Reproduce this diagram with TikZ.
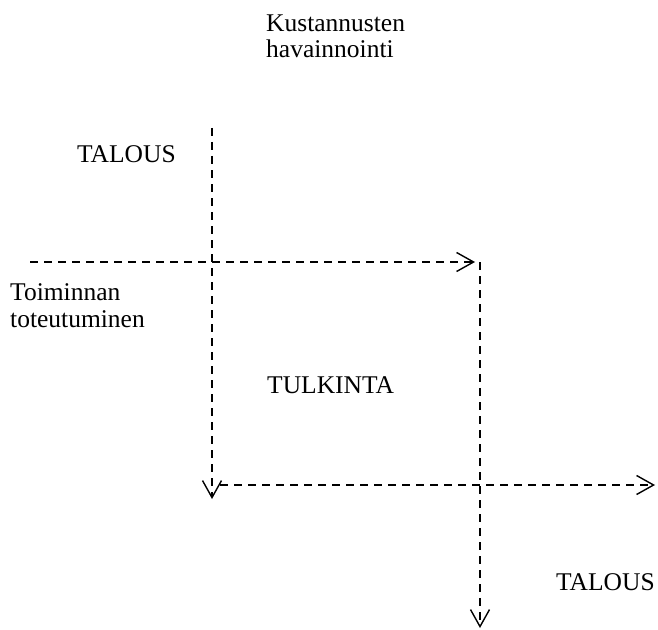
\documentclass[tikz,border=0pt]{standalone}
\usepackage{fontspec}
\setmainfont{Liberation Serif}
\usetikzlibrary{arrows.meta}
\begin{document}
\begin{tikzpicture}[x=1bp,y=-1bp,
  label text/.style={anchor=base west,inner sep=0pt,align=left,
    font=\fontsize{25.5bp}{26.5bp}\selectfont},
  flow/.style={line width=1.4bp,dash pattern=on 8bp off 6bp,
    -{Straight Barb[length=17bp,width=19bp,line width=1.4bp]}}]
  \useasboundingbox (0,0) rectangle (658,630);

  % text labels (multi-line labels are placed by their last baseline)
  \node[label text] (kust) at (266,58) {Kustannusten\\havainnointi};
  \node[label text] (talous1) at (77,163) {TALOUS};
  \node[label text] (toim) at (10,327) {Toiminnan\\toteutuminen};
  \node[label text] (tulk) at (267,393) {TULKINTA};
  \node[label text] (talous2) at (556,590) {TALOUS};

  % end points of the dashed flows
  \coordinate (v1top) at (212,128);
  \coordinate (v1end) at (212,499);
  \coordinate (h1start) at (30,262);
  \coordinate (h1end) at (475,262);
  \coordinate (v2top) at (480,262);
  \coordinate (v2end) at (480,628);
  \coordinate (h2start) at (220,485);
  \coordinate (h2end) at (655,485);

  \draw[flow] (v1top) -- (v1end);
  \draw[flow] (h1start) -- (h1end);
  \draw[flow] (v2top) -- (v2end);
  \draw[flow] (h2start) -- (h2end);
\end{tikzpicture}
\end{document}
